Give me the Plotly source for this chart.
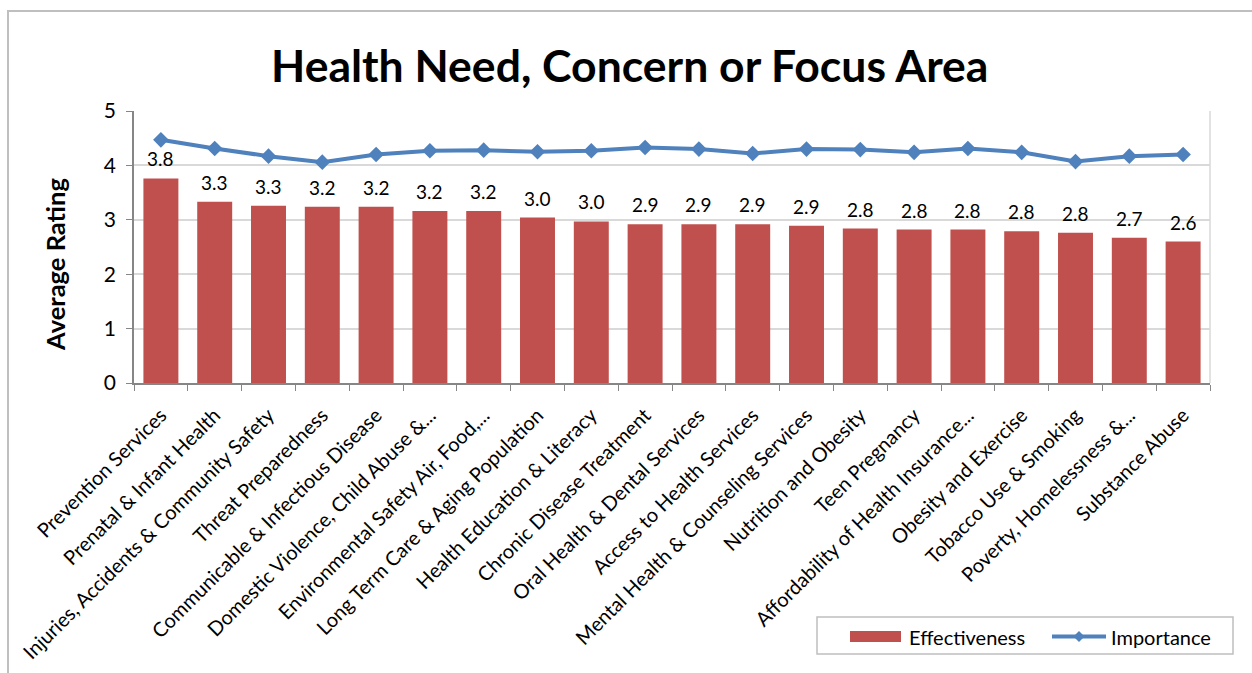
import plotly.graph_objects as go

categories = [
    "Prevention Services",
    "Prenatal & Infant Health",
    "Injuries, Accidents & Community Safety",
    "Threat Preparedness",
    "Communicable & Infectious Disease",
    "Domestic Violence, Child Abuse &...",
    "Environmental Safety Air, Food,...",
    "Long Term Care & Aging Population",
    "Health Education & Literacy",
    "Chronic Disease Treatment",
    "Oral Health & Dental Services",
    "Access to Health Services",
    "Mental Health & Counseling Services",
    "Nutrition and Obesity",
    "Teen Pregnancy",
    "Affordability of Health Insurance...",
    "Obesity and Exercise",
    "Tobacco Use & Smoking",
    "Poverty, Homelessness &...",
    "Substance Abuse",
]

effectiveness = [3.76, 3.33, 3.26, 3.24, 3.24, 3.16, 3.16, 3.04, 2.97, 2.92,
                 2.92, 2.92, 2.89, 2.84, 2.82, 2.82, 2.79, 2.76, 2.67, 2.60]

importance = [4.47, 4.31, 4.17, 4.06, 4.20, 4.27, 4.28, 4.25, 4.27, 4.33,
              4.30, 4.22, 4.30, 4.29, 4.24, 4.31, 4.24, 4.07, 4.17, 4.20]

y_ticks = [0, 1, 2, 3, 4, 5]

FONT = "Lato"
BAR_COLOR = "#C0504D"
LINE_COLOR = "#4F81BD"
FRAME_COLOR = "#BFBFBF"

W, H = 1252, 673
M_L, M_R, M_T, M_B = 134, 42, 111, 290
PLOT_W = W - M_L - M_R
PLOT_H = H - M_T - M_B


def px(xp):
    """Pixel column -> paper x."""
    return (xp - M_L) / PLOT_W


def py(yp):
    """Pixel row -> paper y."""
    return (H - M_B - yp) / PLOT_H


fig = go.Figure()

fig.add_trace(go.Bar(
    x=categories,
    y=effectiveness,
    name="Effectiveness",
    marker=dict(color=BAR_COLOR, line=dict(width=0)),
    showlegend=False,
))

fig.add_trace(go.Scatter(
    x=categories,
    y=importance,
    name="Importance",
    mode="lines+markers",
    line=dict(color=LINE_COLOR, width=4),
    marker=dict(symbol="diamond", size=12, color=LINE_COLOR),
    showlegend=False,
))

# value labels above each bar
for cat, val in zip(categories, effectiveness):
    fig.add_annotation(
        x=cat, y=val, text=f"{val:.1f}",
        xref="x", yref="y",
        showarrow=False, yanchor="bottom", yshift=6,
        font=dict(family=FONT, size=19, color="#000000"),
    )

# y-axis title
fig.add_annotation(
    x=px(55), y=py(265), xref="paper", yref="paper",
    text="<b>Average Rating</b>", textangle=-90,
    showarrow=False, xanchor="center", yanchor="middle",
    font=dict(family=FONT, size=25.5, color="#000000"),
)

shapes = [
    # outer chart frame
    dict(type="rect", xref="paper", yref="paper",
         x0=px(8), x1=px(1300), y0=py(720), y1=py(11),
         line=dict(color=FRAME_COLOR, width=2), fillcolor="rgba(0,0,0,0)",
         layer="below"),
    # right edge of the plot area
    dict(type="line", xref="paper", yref="paper",
         x0=1, x1=1, y0=0, y1=1,
         line=dict(color="#D9D9D9", width=1.5)),
    # legend box
    dict(type="rect", xref="paper", yref="paper",
         x0=px(817), x1=px(1233), y0=py(654), y1=py(617),
         line=dict(color=FRAME_COLOR, width=1.5), fillcolor="white"),
    # legend key: bar
    dict(type="rect", xref="paper", yref="paper",
         x0=px(850), x1=px(901), y0=py(642), y1=py(631),
         line=dict(width=0), fillcolor=BAR_COLOR),
    # legend key: line
    dict(type="line", xref="paper", yref="paper",
         x0=px(1052), x1=px(1106), y0=py(636.5), y1=py(636.5),
         line=dict(color=LINE_COLOR, width=4)),
    # legend key: diamond marker
    dict(type="path", xref="paper", yref="paper",
         path=(f"M {px(1079)} {py(631)} L {px(1084.5)} {py(636.5)} "
               f"L {px(1079)} {py(642)} L {px(1073.5)} {py(636.5)} Z"),
         line=dict(width=0), fillcolor=LINE_COLOR),
]

for label, x_left in (("Effectiveness", 907), ("Importance", 1109)):
    fig.add_annotation(
        x=px(x_left), y=py(636.5), xref="paper", yref="paper",
        text=label, showarrow=False, xanchor="left", yanchor="middle",
        font=dict(family=FONT, size=20, color="#000000"),
    )

fig.update_layout(
    width=W, height=H,
    paper_bgcolor="white", plot_bgcolor="white",
    margin=dict(l=M_L, r=M_R, t=M_T, b=M_B, autoexpand=False),
    title=dict(
        text="<b>Health Need, Concern or Focus Area</b>",
        x=0.503, xanchor="center", xref="container",
        y=1 - 66 / H, yanchor="middle", yref="container",
        font=dict(family=FONT, size=44.5, color="#000000"),
    ),
    font=dict(family=FONT, color="#000000"),
    bargap=0.35,
    showlegend=False,
    shapes=shapes,
)

fig.update_xaxes(
    type="category",
    range=[-0.5, len(categories) - 0.5],
    tickangle=-45,
    tickfont=dict(family=FONT, size=20, color="#000000"),
    showline=True, linecolor="#868686", linewidth=1.5,
    ticks="outside", ticklen=6, tickcolor="#868686",
    tickson="boundaries",
    ticklabelstandoff=11,
    automargin=False,
    showgrid=False,
)

fig.update_yaxes(
    range=[0, 5],
    tickvals=y_ticks,
    tickfont=dict(family=FONT, size=21, color="#000000"),
    showline=True, linecolor="#868686", linewidth=1.5,
    ticks="outside", ticklen=6, tickcolor="#868686",
    ticklabelstandoff=6,
    automargin=False,
    showgrid=True, gridcolor="#D9D9D9", gridwidth=1.5,
    zeroline=False,
)

fig.write_html("out.html")
